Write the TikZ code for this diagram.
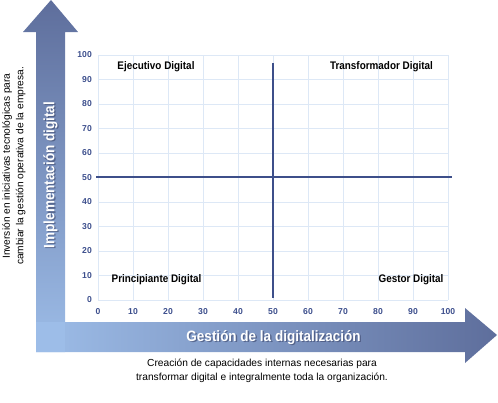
\documentclass[tikz,border=0pt]{standalone}
\usepackage{fontspec}
\setmainfont{Liberation Sans}
\newfontfamily\cond[FakeStretch=0.9]{Liberation Sans}
\usetikzlibrary{calc}
\definecolor{arrdark}{HTML}{5E6E9C}
\definecolor{arrlight}{HTML}{9DBDE8}
\definecolor{gridc}{HTML}{DDE8F6}
\definecolor{tickc}{HTML}{3C4E8C}
\definecolor{linec}{HTML}{3D4F8A}
\definecolor{shadowc}{HTML}{3A4468}
\tikzset{
  ticklab/.style={font=\bfseries\fontsize{8.6}{9}\selectfont, text=tickc, inner sep=0pt},
  quadlab/.style={font=\cond\bfseries\fontsize{11}{12}\selectfont, text=black, inner sep=0pt},
  axtitle/.style={font=\cond\bfseries\fontsize{15}{16}\selectfont, text=white, inner sep=0pt},
  axshadow/.style={font=\cond\bfseries\fontsize{15}{16}\selectfont, text=shadowc, opacity=0.6, inner sep=0pt},
  caption/.style={font=\fontsize{10.2}{13.5}\selectfont, text=black, align=center, inner sep=0pt},
  gridline/.style={draw=gridc, line width=1pt},
  mainline/.style={draw=linec, line width=2pt}
}
\begin{document}
\begin{tikzpicture}[x=1pt,y=-1pt]
\useasboundingbox (0,0) rectangle (498,402);
% vertical arrow
\shade[top color=arrdark, bottom color=arrlight]
  (51,0) -- (78,32) -- (65,32) -- (65,352) -- (36,352) -- (36,32) -- (23,32) -- cycle;
% horizontal arrow
\shade[left color=arrlight, right color=arrdark]
  (36,322) -- (465,322) -- (465,308) -- (497,335) -- (465,363) -- (465,352) -- (36,352) -- cycle;
\fill[arrlight] (36,322) rectangle (65,352);
% grid: x 0..100 -> 98..448, y 0..100 -> 300..55
\foreach \i in {0,10,...,100} {
  \draw[gridline] ({98+3.5*\i},55) -- ({98+3.5*\i},300);
  \draw[gridline] (98,{300-2.45*\i}) -- (448,{300-2.45*\i});
  \node[ticklab, anchor=east] (yt\i) at (92,{300-2.45*\i}) {\i};
  \node[ticklab] (xt\i) at ({98+3.5*\i},312) {\i};
}
% 50 lines
\coordinate (hl) at (96,177);
\coordinate (hr) at (452,177);
\coordinate (vt) at (273,63);
\coordinate (vb) at (273,298);
\draw[mainline] (hl) -- (hr);
\draw[mainline] (vt) -- (vb);
% quadrant labels
\node[quadlab] (q1) at (156,67) {Ejecutivo Digital};
\node[quadlab] (q2) at (381.5,67) {Transformador Digital};
\node[quadlab] (q3) at (156.5,280) {Principiante Digital};
\node[quadlab] (q4) at (411,280) {Gestor Digital};
% axis titles
\node[axshadow] (xts) at (274.8,338.6) {Gestión de la digitalización};
\node[axtitle] (xt) at (273.5,337.3) {Gestión de la digitalización};
\node[axshadow, rotate=90] (yts) at (51.8,176.3) {Implementación digital};
\node[axtitle, rotate=90] (yt) at (50.5,175) {Implementación digital};
% captions
\node[caption] (capx) at (262,371) {Creación de capacidades internas necesarias para\\transformar digital e integralmente toda la organización.};
\node[caption, rotate=90] (capy) at (14,166) {Inversión en iniciativas tecnológicas para\\cambiar la gestión operativa de la empresa.};
\end{tikzpicture}
\end{document}
